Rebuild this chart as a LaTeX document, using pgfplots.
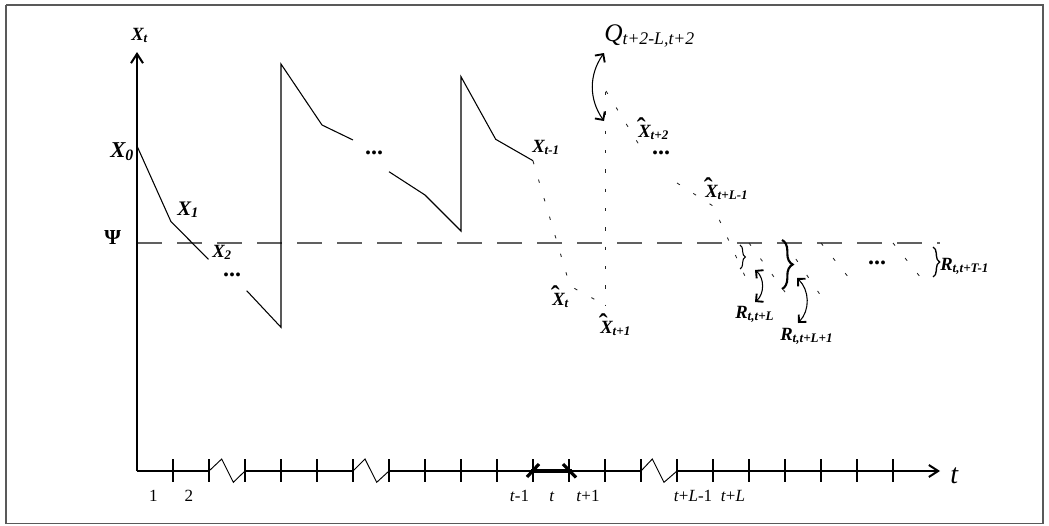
\documentclass[border=0pt]{standalone}
\usepackage{fontspec}
\setmainfont{Liberation Serif}
\usepackage{pgfplots}
\pgfplotsset{compat=1.18}
\usetikzlibrary{arrows.meta,decorations.pathreplacing}
\newcommand\fs[1]{\fontsize{#1}{#1}\selectfont}
\newcommand\Xh{\makebox[0pt][l]{\kern-0.08em\raisebox{0.5pt}{\upshape\bfseries\fs{20}ˆ}}X}
\newcommand\dotsb{{\fs{18}\bfseries ...}}
\tikzset{
  fc/.style={black!85, line width=0.65pt, dash pattern=on 2.5pt off 12pt},
}
\begin{document}
\begin{tikzpicture}
\begin{axis}[
  x=0.75pt, y=0.75pt, y dir=reverse,
  xmin=0, xmax=1049, ymin=0, ymax=525,
  enlargelimits=false, hide axis, clip=false,
  unbounded coords=jump,
]
% extent and frame
\addplot[draw=none, forget plot] coordinates {(0,0) (1049,525)};
\addplot[gray!70!black, line width=1pt] coordinates {(6,5) (1043,5) (1043,523.5) (6,523.5) (6,5)};

% threshold Psi
\addplot[gray!75!black, line width=1.3pt, dash pattern=on 18.4pt off 11.6pt] coordinates {(137,243.3) (940,243.3)};

% y axis
\addplot[black, line width=1.1pt, -{Straight Barb[length=7pt,width=9pt,line width=1.5pt]}] coordinates {(137,471) (137,52)};
% x axis with breaks
\addplot[black, line width=1pt] coordinates {(137,471) (209,471) (209,nan) (245,471) (353,471) (353,nan) (389,471) (641,471) (641,nan)};
\addplot[black, line width=1pt, -{Straight Barb[length=7pt,width=9pt,line width=1.5pt]}] coordinates {(677,471) (940,471)};
% zigzag breaks
\addplot[black, line width=0.7pt] coordinates {(209,471) (221.7,459) (233.3,482.3) (245,471)};
\addplot[black, line width=0.7pt] coordinates {(353,471) (365,459) (376.7,482.3) (389,471)};
\addplot[black, line width=0.7pt] coordinates {(641,471) (652.3,459) (664,482.3) (677,471)};
% ticks
\addplot[black, line width=0.9pt] coordinates {
 (173,459) (173,482) (173,nan)
 (209,459) (209,482) (209,nan)
 (245,459) (245,482) (245,nan)
 (281,459) (281,482) (281,nan)
 (317,459) (317,482) (317,nan)
 (353,459) (353,482) (353,nan)
 (389,459) (389,482) (389,nan)
 (425,459) (425,482) (425,nan)
 (461,459) (461,482) (461,nan)
 (497,459) (497,482) (497,nan)
 (533,459) (533,482) (533,nan)
 (569,459) (569,482) (569,nan)
 (605,459) (605,482) (605,nan)
 (641,459) (641,482) (641,nan)
 (677,459) (677,482) (677,nan)
 (713,459) (713,482) (713,nan)
 (749,459) (749,482) (749,nan)
 (785,459) (785,482) (785,nan)
 (821,459) (821,482) (821,nan)
 (857,459) (857,482) (857,nan)
 (893,459) (893,482)
};
% bold interval marker at t
\addplot[black, line width=2.4pt] coordinates {(531,471) (572,471)};
\addplot[black, line width=2.4pt] coordinates {(527,477) (539,464)};
\addplot[black, line width=2.4pt] coordinates {(563,464) (576,477.5)};

% observed inventory path (solid)
\addplot[black, line width=0.8pt] coordinates {(137,146) (171,221.7) (208.5,259.3)};
\addplot[black, line width=0.8pt] coordinates {(246.7,290.7) (281,327.3) (281,64) (322,125) (353,140)};
\addplot[black, line width=0.8pt] coordinates {(389,171.7) (425,195) (461,231) (461,76.7) (495.7,139.3) (533,160.7)};

% forecast path (dotted)
\addplot[fc] coordinates {(533,161) (570,286) (605,305)};
\addplot[fc] coordinates {(605,92) (605,305)};
\addplot[fc] coordinates {(606,91) (641,148)};
\addplot[fc] coordinates {(677,183) (713,206) (749,285)};
% shortage sawtooth (dotted)
\addplot[fc] coordinates {(749,243) (785,292)};
\addplot[fc] coordinates {(785,243) (821,296)};
\addplot[fc] coordinates {(821,243) (857,288)};
\addplot[fc] coordinates {(893,243) (929,288)};

% braces
\draw[line width=0.8pt, decorate, decoration={brace, amplitude=4pt}] (axis cs:740,245) -- (axis cs:740,269);
\draw[line width=1.6pt, decorate, decoration={brace, amplitude=8pt}] (axis cs:782,240) -- (axis cs:782,289);
\draw[line width=1pt, decorate, decoration={brace, amplitude=5pt}] (axis cs:933,247) -- (axis cs:933,277);

% curved double arrows
\draw[line width=0.8pt, {Straight Barb[length=4.5pt,width=9pt,line width=1.4pt]}-{Straight Barb[length=4.5pt,width=9pt,line width=1.4pt]}] (axis cs:604,53) to[bend right=35] (axis cs:604,121);
\draw[line width=0.8pt, {Straight Barb[length=4pt,width=8pt,line width=1.4pt]}-{Straight Barb[length=4pt,width=8pt,line width=1.4pt]}] (axis cs:755,270) to[bend left=50] (axis cs:755,302);
\draw[line width=0.8pt, {Straight Barb[length=4pt,width=8pt,line width=1.4pt]}-{Straight Barb[length=4pt,width=8pt,line width=1.4pt]}] (axis cs:797,278) to[bend left=45] (axis cs:798,323);

% labels
\node[anchor=base west, inner sep=0] at (axis cs:131,40) {\fs{14}\bfseries\itshape X\textsubscript{t}};
\node[anchor=base west, inner sep=0] at (axis cs:110,157) {\fs{17}\bfseries\itshape X\textsubscript{0}};
\node[anchor=base west, inner sep=0] at (axis cs:177,215) {\fs{15.5}\bfseries\itshape X\textsubscript{1}};
\node[anchor=base west, inner sep=0] at (axis cs:212,257) {\fs{14}\bfseries\itshape X\textsubscript{2}};
\node[anchor=base west, inner sep=0] at (axis cs:104,244) {\fs{16}\bfseries Ψ};
\node[anchor=base west, inner sep=0] at (axis cs:532,152) {\fs{14}\bfseries\itshape X\textsubscript{t-1}};
\node[anchor=base west, inner sep=0] at (axis cs:552,305) {\fs{14}\bfseries\itshape \Xh\textsubscript{t}};
\node[anchor=base west, inner sep=0] at (axis cs:600,333) {\fs{14}\bfseries\itshape \Xh\textsubscript{t+1}};
\node[anchor=base west, inner sep=0] at (axis cs:638,137) {\fs{14}\bfseries\itshape \Xh\textsubscript{t+2}};
\node[anchor=base west, inner sep=0] at (axis cs:705,197) {\fs{14}\bfseries\itshape \Xh\textsubscript{t+L-1}};
\node[anchor=base west, inner sep=0] at (axis cs:604,41) {\fs{19}\itshape Q\textsubscript{t+2-L,t+2}};
\node[anchor=base west, inner sep=0] at (axis cs:735,318) {\fs{14}\bfseries\itshape R\textsubscript{t,t+L}};
\node[anchor=base west, inner sep=0] at (axis cs:780,340) {\fs{14}\bfseries\itshape R\textsubscript{t,t+L+1}};
\node[anchor=base west, inner sep=0] at (axis cs:940,270) {\fs{14}\bfseries\itshape R\textsubscript{t,t+T-1}};
% ellipses
\node[inner sep=0] at (axis cs:232,275) {\dotsb};
\node[inner sep=0] at (axis cs:374,153) {\dotsb};
\node[inner sep=0] at (axis cs:661,153) {\dotsb};
\node[inner sep=0] at (axis cs:877,263) {\dotsb};

% time labels
\node[anchor=base, inner sep=0] at (axis cs:153.3,501.5) {\fs{12.8}1};
\node[anchor=base, inner sep=0] at (axis cs:188.8,501.5) {\fs{12.8}2};
\node[anchor=base, inner sep=0] at (axis cs:519.5,501.5) {\fs{12.8}\textit{t}-1};
\node[anchor=base, inner sep=0] at (axis cs:552,501.5) {\fs{12.8}\textit{t}};
\node[anchor=base, inner sep=0] at (axis cs:588,501.5) {\fs{12.8}\textit{t}+1};
\node[anchor=base, inner sep=0] at (axis cs:693,501.5) {\fs{12.8}\textit{t}+\textit{L}-1};
\node[anchor=base, inner sep=0] at (axis cs:733,501.5) {\fs{12.8}\textit{t}+\textit{L}};
\node[anchor=base west, inner sep=0] at (axis cs:950,483) {\fs{21}\itshape t};
\end{axis}
\end{tikzpicture}
\end{document}
